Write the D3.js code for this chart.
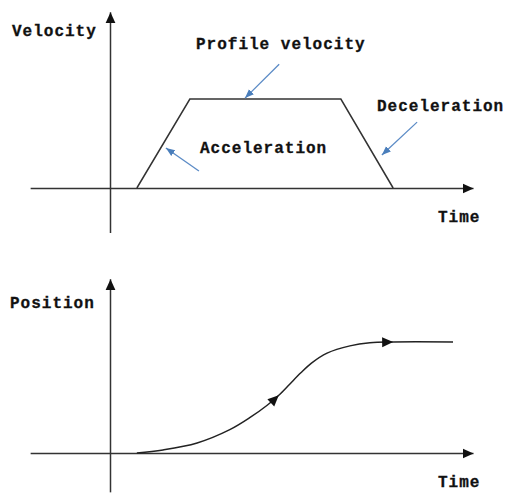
<!DOCTYPE html>
<html>
<head>
<meta charset="utf-8">
<script src="https://cdn.jsdelivr.net/npm/d3@7"></script>
<style>
  body { margin: 0; background: #fff; }
  text { font-family: "Liberation Mono", "DejaVu Sans Mono", monospace; font-weight: bold; font-size: 16px; letter-spacing: 1px; fill: #111; stroke: #111; stroke-width: 0.3px; }
</style>
</head>
<body>
<div class="canvas"></div>
<script>
// time runs 0..100 on both panels
var velTime = [7.4, 22, 63.6, 78],
    velValue = [0, 1, 1, 0];

var posTime = [7.4, 14.6, 24, 33, 38.6, 43.3, 46.5, 49.5, 52.5, 55.5, 59.8, 66.1, 71.6, 78, 94.5],
    posValue = [0, 0.027, 0.09, 0.21, 0.32, 0.43, 0.52, 0.62, 0.72, 0.81, 0.9, 0.965, 0.993, 1, 1];

var posArrowAt = [46.5, 78];

// annotation arrows, in time / velocity units
var noteLabels = ['Profile velocity', 'Acceleration', 'Deceleration'],
    noteFrom = [[46.6, 1.39], [24.5, 0.19], [84.6, 0.74]],
    noteTo = [[37.2, 1.01], [15.4, 0.45], [74.9, 0.37]];

var width = 510,
    height = 493;

var svg = d3.select('.canvas').append('svg')
    .attr('width', width)
    .attr('height', height);

var defs = svg.append('defs');
defs.append('marker')
    .attr('id', 'head')
    .attr('markerUnits', 'userSpaceOnUse')
    .attr('viewBox', '0 -6 12 12')
    .attr('refX', 11).attr('refY', 0)
    .attr('markerWidth', 12).attr('markerHeight', 12)
    .attr('orient', 'auto')
    .append('path')
        .attr('d', 'M0,-5L11,0L0,5Z')
        .attr('fill', '#111');
defs.append('marker')
    .attr('id', 'blue')
    .attr('markerUnits', 'userSpaceOnUse')
    .attr('viewBox', '0 -5 10 10')
    .attr('refX', 9).attr('refY', 0)
    .attr('markerWidth', 10).attr('markerHeight', 10)
    .attr('orient', 'auto')
    .append('path')
        .attr('d', 'M0,-3.5L9,0L0,3.5Z')
        .attr('fill', '#4a7ebb');

var x = d3.scaleLinear().domain([0, 100]).range([110, 473]);
var v = d3.scaleLinear().domain([0, 1]).range([188, 99]);
var p = d3.scaleLinear().domain([0, 1]).range([453, 342]);

function axes(g, yScale, yLow, yHigh) {
    var hx = d3.scaleLinear().domain([-22, 100]).range([x(-22), x(100)]);
    g.append('g')
        .attr('transform', 'translate(0,' + yScale(0) + ')')
        .call(d3.axisBottom(hx).tickValues([]).tickSizeOuter(0))
        .select('.domain')
            .attr('stroke', '#333').attr('stroke-width', 1.5)
            .attr('marker-end', 'url(#head)');
    var vy = d3.scaleLinear().domain([yLow, yHigh]).range([yScale(yLow), yScale(yHigh)]);
    g.append('g')
        .attr('transform', 'translate(' + x(0) + ',0)')
        .call(d3.axisLeft(vy).tickValues([]).tickSizeOuter(0))
        .select('.domain')
            .attr('stroke', '#333').attr('stroke-width', 1.5)
            .attr('marker-end', 'url(#head)');
}

// velocity panel
var velPanel = svg.append('g');
axes(velPanel, v, -0.5, 1.98);

velPanel.append('path')
    .datum(d3.zip(velTime, velValue))
    .attr('fill', 'none')
    .attr('stroke', '#333')
    .attr('stroke-width', 1.5)
    .attr('d', d3.line().x(function (d) { return x(d[0]); }).y(function (d) { return v(d[1]); }));

velPanel.selectAll('.note')
    .data(noteLabels)
    .enter()
    .append('line')
    .attr('class', 'note')
    .attr('x1', function (d, i) { return x(noteFrom[i][0]); })
    .attr('y1', function (d, i) { return v(noteFrom[i][1]); })
    .attr('x2', function (d, i) { return x(noteTo[i][0]); })
    .attr('y2', function (d, i) { return v(noteTo[i][1]); })
    .attr('stroke', '#5b8bc6')
    .attr('stroke-width', 1.3)
    .attr('marker-end', 'url(#blue)');

velPanel.append('text').attr('x', 12).attr('y', 36).text('Velocity');
velPanel.append('text').attr('x', 196).attr('y', 49).text(noteLabels[0]);
velPanel.append('text').attr('x', 200).attr('y', 153).text(noteLabels[1]);
velPanel.append('text').attr('x', 377).attr('y', 111).text(noteLabels[2]);
velPanel.append('text').attr('x', 438).attr('y', 222).text('Time');

// position panel
var posPanel = svg.append('g');
axes(posPanel, p, -0.35, 1.57);

var curve = posPanel.append('path')
    .datum(d3.zip(posTime, posValue))
    .attr('fill', 'none')
    .attr('stroke', '#222')
    .attr('stroke-width', 1.5)
    .attr('d', d3.line()
        .curve(d3.curveCatmullRom.alpha(0.5))
        .x(function (d) { return x(d[0]); })
        .y(function (d) { return p(d[1]); }));

var node = curve.node(),
    total = node.getTotalLength();

function lengthAtX(px) {
    var lo = 0, hi = total;
    for (var k = 0; k < 40; k++) {
        var mid = (lo + hi) / 2;
        if (node.getPointAtLength(mid).x < px) lo = mid; else hi = mid;
    }
    return lo;
}

posPanel.selectAll('.tri')
    .data(posArrowAt)
    .enter()
    .append('path')
    .attr('class', 'tri')
    .attr('d', 'M-11,-5L0,0L-11,5Z')
    .attr('fill', '#111')
    .attr('transform', function (t) {
        var l = lengthAtX(x(t)),
            a = node.getPointAtLength(Math.max(0, l - 3)),
            b = node.getPointAtLength(Math.min(total, l + 3)),
            c = node.getPointAtLength(l),
            ang = Math.atan2(b.y - a.y, b.x - a.x) * 180 / Math.PI;
        return 'translate(' + c.x + ',' + c.y + ') rotate(' + ang + ')';
    });

posPanel.append('text').attr('x', 10).attr('y', 308).text('Position');
posPanel.append('text').attr('x', 438).attr('y', 487).text('Time');
</script>
</body>
</html>
